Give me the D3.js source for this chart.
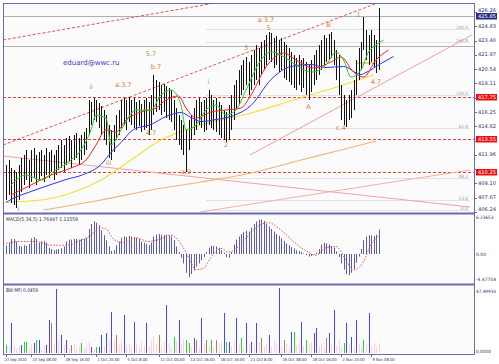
<!DOCTYPE html>
<html><head><meta charset="utf-8">
<script src="https://cdn.jsdelivr.net/npm/d3@7"></script>
<style>body{margin:0;background:#fff}svg{display:block}text{font-family:"DejaVu Sans",sans-serif}</style>
</head><body><svg id="c" width="499" height="364"></svg>
<script>
// ---------- DATA ----------
const highs=[410.95,411.45,410.65,410.45,410.25,410.95,411.65,411.95,412.45,411.45,412.45,412.65,411.95,412.25,412.45,411.95,412.65,412.25,412.45,411.95,412.45,412.95,413.45,412.95,413.65,413.85,413.45,413.95,414.15,413.65,413.95,414.25,414.65,417.45,417.25,417.65,417.45,417.15,416.85,416.45,415.95,414.95,414.45,414.95,415.95,416.45,417.45,417.65,417.45,417.75,417.45,417.65,417.25,417.45,417.05,417.45,417.65,417.25,417.95,419.95,419.45,419.25,418.95,419.05,418.85,418.65,418.45,417.45,416.65,415.95,415.45,414.95,414.45,415.45,415.95,416.65,417.45,417.65,417.25,417.45,417.65,418.45,417.95,417.45,417.65,417.25,416.95,416.45,416.25,416.95,417.95,418.95,419.45,420.45,420.95,421.45,421.75,421.25,421.95,422.45,422.95,422.65,423.25,423.45,423.95,424.25,424.15,423.65,423.85,423.45,423.65,423.25,422.95,422.65,422.25,421.95,421.65,421.95,421.45,421.65,421.25,420.95,421.45,421.95,422.45,422.95,423.45,423.95,423.65,424.05,424.25,423.45,422.45,421.95,418.95,417.95,417.45,417.95,418.45,419.45,421.45,422.65,423.25,425.75,424.45,423.95,424.45,423.95,423.45,426.65];
const lows=[407.45,407.95,407.15,406.95,406.65,407.45,408.25,408.95,409.45,408.65,409.25,409.65,408.95,409.45,409.85,409.25,409.95,409.65,410.25,409.45,409.95,410.45,410.65,410.25,410.95,411.25,410.65,411.45,411.65,410.95,411.45,411.95,412.45,413.95,414.95,415.45,415.25,414.65,413.95,413.45,412.95,411.65,411.45,412.25,413.45,413.95,414.65,414.95,414.45,415.25,414.95,414.65,414.45,414.85,414.25,414.45,414.65,413.95,414.45,415.95,416.25,416.45,415.95,416.25,415.65,415.45,415.25,414.45,413.45,412.95,412.45,411.95,410.25,412.45,413.45,413.95,414.45,414.95,414.65,414.25,414.45,414.95,414.65,414.45,414.25,413.95,413.65,413.45,413.25,413.45,414.45,415.45,416.45,416.95,417.95,418.45,418.95,417.95,418.45,418.95,419.45,418.95,419.95,420.45,420.95,421.45,421.25,420.65,420.95,420.25,420.45,419.65,419.45,419.25,418.95,418.65,418.45,418.95,418.25,418.65,417.95,417.45,418.25,418.95,419.45,419.95,420.45,420.95,421.25,421.45,421.65,420.95,419.45,417.95,415.45,414.95,414.75,415.45,415.65,416.45,417.95,419.45,420.45,422.45,421.45,420.95,421.25,420.75,420.15,420.45];

// Alligator lines: bar index / price read at sample points
const jawIdx=[0,2,10,18,24,31,38,42,46,51,58,64,70,74,78,84,91,98,106,114,122,128,135,142,144,150,155];
const jawVal=[407.2,407.5,408.3,409.0,409.5,410.0,411.0,412.2,413.2,414.5,415.0,415.8,416.2,415.7,415.3,415.5,415.9,416.9,419.5,420.8,421.0,420.7,420.8,420.0,420.2,421.1,421.8];
const teethIdx=[2,10,18,26,32,36,40,44,48,54,60,64,69,72,76,82,88,94,98,104,111,116,123,130,134,139,143,148,153];
const teethVal=[407.95,408.95,409.95,410.65,411.45,412.95,414.45,414.25,415.45,416.25,416.65,417.45,417.85,416.65,415.65,416.25,416.45,416.65,417.95,420.75,422.15,421.45,420.65,421.25,421.75,420.25,419.75,421.45,422.45];
const lipsIdx=[2,8,14,20,26,30,34,36,40,42,46,52,58,62,66,70,72,76,80,84,88,92,96,102,106,112,116,122,128,132,135,138,142,145,148,151];
const lipsVal=[408.95,409.95,409.45,410.45,411.45,412.45,414.45,415.95,415.65,412.95,414.45,416.45,416.45,417.95,418.45,416.95,414.45,414.95,416.45,416.95,415.95,416.45,418.45,421.45,422.25,421.65,420.95,420.25,420.95,422.25,421.45,419.75,420.45,422.25,422.95,423.45];
const yellowIdx=[0,14,26,38,50,62,78,98,115,131,147];
const yellowVal=[407.25,407.45,408.15,409.45,411.45,413.45,414.95,416.15,417.45,418.65,419.95];
const orangeIdx=[15,38,58,78,98,118,134,148];
const orangeVal=[406.45,407.45,408.45,409.25,410.15,411.45,412.45,413.35];
const fractalIdx=[140,148], fractalVal=[421.15,421.15];

// trend / channel lines (index, price)
const trendLines=[
  {p:[[-1.2,423.45],[83.6,427.15]],c:"#e85050",d:"3,2"},
  {p:[[-1.2,412.95],[148.6,427.15]],c:"#e85050",d:"3,2"},
  {p:[[97.6,411.95],[186.4,423.95]],c:"#f4a0a0",d:null},
  {p:[[-1.2,411.85],[185.6,406.75]],c:"#f4a0a0",d:null},
  {p:[[77.6,406.25],[185.6,410.45]],c:"#f4b0a0",d:null}
];
const grayLevels=[425.85,422.85];
const redLevels=[417.75,413.55,410.25];
const fibLevels=[424.55,423.25,417.95,414.65,409.65,407.45,406.45];
const fibLabels=["200.0","161.8","100.0","61.8","38.2","23.6","0.0"];
const priceTicks=[426.26,424.83,423.40,421.97,420.54,419.11,417.68,416.25,414.82,413.39,411.96,410.53,409.10,407.67,406.24];

const macd=[1.3,1.8,2.4,2.4,2.0,1.3,1.2,1.4,1.3,1.6,2.5,2.7,2.4,1.8,2.0,2.1,1.8,1.0,0.8,0.6,0.7,0.8,0.9,1.2,2.0,2.3,2.3,2.4,2.4,2.3,2.4,2.4,2.6,4.0,4.8,5.2,5.0,4.6,3.8,3.0,2.2,1.2,0.5,0.6,1.4,2.0,2.6,2.8,2.7,2.9,2.8,2.7,2.6,2.4,2.0,1.8,1.6,1.4,1.8,2.8,3.1,3.2,3.1,3.0,3.1,3.0,2.8,2.2,1.2,0.3,-0.6,-1.5,-3.0,-3.7,-3.2,-2.6,-2.0,-1.5,-1.0,-0.5,0.3,1.0,1.3,1.3,1.2,1.0,0.6,0.2,-0.5,-0.6,0.3,1.5,2.3,2.8,3.2,3.5,3.7,3.6,4.2,4.8,5.2,5.5,5.5,5.3,4.8,4.4,4.0,3.6,3.2,2.9,2.5,2.1,1.7,1.4,1.1,0.9,0.6,0.5,0.3,0.1,-0.2,-0.4,-0.3,-0.1,0.2,0.8,1.5,1.8,1.7,1.5,1.3,1.0,0.4,-0.5,-1.5,-2.5,-3.2,-3.4,-3.0,-2.4,-1.4,-0.4,0.8,2.2,2.8,3.0,3.0,2.9,3.1,3.9];
const sigIdx=[0,6,12,18,24,30,34,37,40,43,47,52,57,61,66,70,73,76,79,82,86,89,93,97,101,105,110,115,120,124,128,132,136,139,143,146,149];
const sigVal=[1.7,2.0,2.0,1.4,1.4,2.2,3.0,4.2,4.0,2.4,1.8,2.6,2.0,2.3,3.0,1.6,-0.5,-2.5,-2.3,-0.5,0.9,0.3,1.2,3.0,4.5,5.0,3.8,2.0,0.5,-0.2,1.0,1.2,-1.0,-2.6,-1.2,1.5,2.8];

const mfi=[5.9,4.5,22.3,6.0,3.5,5.0,5.9,8.2,8.2,4.0,6.5,7.4,9.6,9.6,3.0,5.5,5.9,24.5,22.3,7.0,47.5,9.0,13.4,6.0,9.6,4.0,5.9,7.5,3.5,5.0,7.4,4.0,6.0,8.5,4.5,3.0,4.5,4.5,13.4,5.0,14.8,8.0,30.4,10.0,13.4,6.0,9.0,28.2,5.5,7.0,4.0,23.0,6.5,3.5,8.0,5.0,22.3,4.5,9.0,12.0,6.0,13.4,5.0,8.0,35.6,7.0,4.0,11.9,9.0,24.5,6.0,10.0,9.6,7.4,5.0,11.1,9.6,4.0,26.0,7.0,9.6,5.5,9.6,4.0,9.6,6.0,8.0,29.7,8.2,8.2,5.0,9.0,26.0,6.0,11.1,4.5,22.3,7.0,8.2,5.0,22.3,8.0,11.1,5.0,7.0,13.4,4.0,9.0,6.0,48.2,5.0,9.6,7.0,4.0,15.6,15.6,6.0,8.0,23.0,4.5,9.6,6.0,8.0,14.8,18.6,5.0,7.0,4.0,11.1,14.8,6.0,31.9,5.0,9.6,4.0,7.4,22.3,6.0,11.9,5.0,24.5,7.0,4.0,9.6,6.0,29.7,5.0,7.4,4.0,7.4];
const mfiCol="gpbpppbggp"+"pbgbppbbrp"+"bpbpbprppp"+"gpppbpgbbp"+"bpbprppbpp"+"pbppppbppp"+"prppbppgpb"+"ppggpbrpbp"+"rpgprppbgb"+"ppbpgpbpbp"+"bprppbpppb"+"prppbgppbp"+"gppbbppprb"+"pbpppgbpbp"+"bppgpbpppp";
const labelsX=["23 Sep 2010","24 Sep 08:00","28 Sep 16:00","1 Oct 20:00","5 Oct 8:00","11 Oct 00:00","13 Oct 16:00","18 Oct 16:00","21 Oct 8:00","26 Oct 08:00","28 Oct 16:00","2 Nov 20:00","9 Nov 08:00"];
const labelsXIdx=[0,10,23,36,48,61,73,85,97,110,122,134,146];
const waveText=["i","ii","a.3.7","5.7","b.7","iii","4.7","a.9","i","2","3","a.3.7","5","B","1","A","c.4","4.7"];
const waveIdx=[5,34,47,58,60,41,58,72,81,88,96,104,105,129,141,121,134,148];
const wavePrice=[406.35,418.55,418.75,421.85,420.55,410.95,413.95,410.05,419.05,412.75,422.45,425.25,424.45,424.75,425.75,416.55,414.45,419.05];
const waveCol=["#a0a040","#a0a040","#e07a30","#a0a040","#e07a30","#a0a040","#a0a040","#e07a30","#a0a040","#a0a040","#a0a040","#e07a30","#a0a040","#e07a30","#e07a30","#e07a30","#e07a30","#e07a30"];

// ---------- DRAW ----------
const svg=d3.select("#c");
const L=3,R=474, mainT=3, mainB=212, mT=215, mB=283, fT=286, fB=354;
const x=d3.scaleLinear().domain([0,149]).range([6,378.5]);
const y=d3.scaleLinear().domain([406.25,427.15]).range([mainB,mainT]);
const ym=d3.scaleLinear().domain([-4.47758,6.23653]).range([282,215]);
const yf=d3.scaleLinear().domain([0,47.49933]).range([353,289]);
const frame="#6a6ab0", axisTxt="#303060";
const fit=(sel,w)=>sel.attr("textLength",w).attr("lengthAdjust","spacingAndGlyphs");

svg.append("rect").attr("width",499).attr("height",364).attr("fill","#ffffff");
svg.append("rect").attr("x",L).attr("y",mainT).attr("width",R-L).attr("height",fB-mainT).attr("fill","#fbfbfb");
const defs=svg.append("defs");
defs.append("clipPath").attr("id","cm").append("rect").attr("x",L).attr("y",mainT).attr("width",R-L).attr("height",mainB-mainT);
defs.append("clipPath").attr("id","cmacd").append("rect").attr("x",L).attr("y",mT).attr("width",R-L).attr("height",mB-mT);
const gm=svg.append("g").attr("clip-path","url(#cm)");

// horizontal levels
grayLevels.forEach(v=>gm.append("line").attr("x1",L).attr("x2",R).attr("y1",Math.round(y(v))+.5).attr("y2",Math.round(y(v))+.5).attr("stroke","#b0b0b0").attr("stroke-width",1));
fibLevels.forEach((v,k)=>{
  const yy=Math.round(y(v))+.5;
  gm.append("line").attr("x1",x(80)).attr("x2",R-4).attr("y1",yy).attr("y2",yy).attr("stroke","#e2e2e2").attr("stroke-width",1);
  fit(svg.append("text").attr("x",R-6).attr("y",yy-1).attr("text-anchor","end").attr("font-size",4.5).attr("fill","#9a9a9a").text(fibLabels[k]),fibLabels[k].length*2.4);
});
redLevels.forEach(v=>gm.append("line").attr("x1",L).attr("x2",R).attr("y1",Math.round(y(v))+.5).attr("y2",Math.round(y(v))+.5).attr("stroke","#e04040").attr("stroke-dasharray","3,2").attr("stroke-width",1));

// trend lines
const tl=d3.line().x(d=>x(d[0])).y(d=>y(d[1]));
trendLines.forEach(t=>{const p=gm.append("path").attr("d",tl(t.p)).attr("fill","none").attr("stroke",t.c).attr("stroke-width",1); if(t.d)p.attr("stroke-dasharray",t.d);});

// MAs
const mk=(idx,val)=>idx.map((d,k)=>[d,val[k]]);
const ln=d3.line().x(d=>x(d[0])).y(d=>y(d[1])).curve(d3.curveMonotoneX);
[[orangeIdx,orangeVal,"#f5b27a"],[yellowIdx,yellowVal,"#f0e040"]].forEach(([a,b,c])=>gm.append("path").attr("d",ln(mk(a,b))).attr("fill","none").attr("stroke",c).attr("stroke-width",1.2));
gm.append("path").attr("d",tl(mk(fractalIdx,fractalVal))).attr("stroke","#c8b030").attr("stroke-width",1).attr("fill","none");

// bars
gm.append("g").selectAll("line").data(highs).join("line")
  .attr("x1",(d,i)=>Math.round(x(i))+.5).attr("x2",(d,i)=>Math.round(x(i))+.5)
  .attr("y1",d=>y(d)).attr("y2",(d,i)=>y(lows[i])).attr("stroke","#111").attr("stroke-width",1);

[[jawIdx,jawVal,"#3030ff"],[teethIdx,teethVal,"#ff2020"],[lipsIdx,lipsVal,"#20d020"]].forEach(([a,b,c])=>gm.append("path").attr("d",ln(mk(a,b))).attr("fill","none").attr("stroke",c).attr("stroke-width",1));

// wave labels
waveText.forEach((t,k)=>gm.append("text").attr("x",x(waveIdx[k])).attr("y",y(wavePrice[k])).attr("font-size",6.5).attr("fill",waveCol[k]).attr("text-anchor","middle").text(t));
svg.append("text").attr("x",63).attr("y",65).attr("font-size",7).attr("fill","#3a3ac8").text("eduard@wwc.ru");

// MACD
const gmc=svg.append("g").attr("clip-path","url(#cmacd)");
gmc.append("g").selectAll("line").data(macd).join("line")
  .attr("x1",(d,i)=>Math.round(x(i))+.5).attr("x2",(d,i)=>Math.round(x(i))+.5)
  .attr("y1",ym(0)).attr("y2",d=>ym(d)).attr("stroke","#5c5cb0").attr("stroke-width",1);
gmc.append("path").attr("d",d3.line().x(d=>x(d[0])).y(d=>ym(d[1])).curve(d3.curveMonotoneX)(mk(sigIdx,sigVal)))
  .attr("fill","none").attr("stroke","#f05050").attr("stroke-width",1).attr("stroke-dasharray","1.5,1.5");
fit(svg.append("text").attr("x",6).attr("y",221).attr("font-size",5).attr("fill",axisTxt).text("MACD(5,34,5) 1.76447 1.11559"),72);

// MFI
const colMap={b:"#4646ff",g:"#30d030",r:"#b08054",p:"#fbd0d8"};
svg.append("g").selectAll("line").data(mfi).join("line")
  .attr("x1",(d,i)=>Math.round(x(i))+.5).attr("x2",(d,i)=>Math.round(x(i))+.5)
  .attr("y1",yf(0)).attr("y2",d=>yf(d)).attr("stroke",(d,i)=>colMap[mfiCol[i]]).attr("stroke-width",1);
fit(svg.append("text").attr("x",6).attr("y",292).attr("font-size",5).attr("fill",axisTxt).text("BW MFI 0.0459"),32);

// frames
const fr=svg.append("g").attr("stroke",frame).attr("fill","none");
fr.append("rect").attr("x",L+.5).attr("y",mainT+.5).attr("width",R-L).attr("height",fB-mainT);
fr.append("line").attr("x1",L).attr("x2",R).attr("y1",213.5).attr("y2",213.5).attr("stroke-width",2);
fr.append("line").attr("x1",L).attr("x2",R).attr("y1",284.5).attr("y2",284.5).attr("stroke-width",2);

// right axis
const ax=svg.append("g").attr("font-size",5).attr("fill",axisTxt);
priceTicks.forEach(v=>{const yy=y(v);
  svg.append("line").attr("x1",R).attr("x2",R+3).attr("y1",Math.round(yy)+.5).attr("y2",Math.round(yy)+.5).attr("stroke",frame);
  if(redLevels.some(b=>Math.abs(y(b)-yy)<7))return;
  fit(ax.append("text").attr("x",R+4).attr("y",Math.min(yy+1.5,211)-(v>426?1.5:0)).text(v.toFixed(2)),18);});
const box=(v,fill)=>{const yy=y(v);
  svg.append("rect").attr("x",R+2).attr("y",yy-3).attr("width",21).attr("height",6.5).attr("fill",fill);
  fit(svg.append("text").attr("x",R+4).attr("y",yy+2).attr("font-size",5).attr("fill","#fff").text(v.toFixed(2)),18);};
redLevels.forEach(v=>box(v,"#ee1010"));
box(grayLevels[0],"#2a2a80");
[[6.23653,"6.23653",4],[0,"0.00",2],[-4.47758,"-4.47758",-1]].forEach(([v,t,o])=>fit(ax.append("text").attr("x",R+2).attr("y",ym(v)+o).attr("font-size",4.5).text(t),t.length*2.5));
[[47.49933,"47.49933",4],[0,"0.0000",0]].forEach(([v,t,o])=>fit(ax.append("text").attr("x",R+2).attr("y",yf(v)+o).attr("font-size",4.5).text(t),t.length*2.5));

// x axis
labelsX.forEach((t,k)=>{const xx=Math.round(x(labelsXIdx[k]))+.5;
  svg.append("line").attr("x1",xx).attr("x2",xx).attr("y1",fB).attr("y2",fB+3).attr("stroke",frame);
  fit(svg.append("text").attr("x",k===0?xx-2:xx+1).attr("y",361).attr("font-size",4.2).attr("fill",axisTxt).text(t),t.length*2.0);});
</script></body></html>
